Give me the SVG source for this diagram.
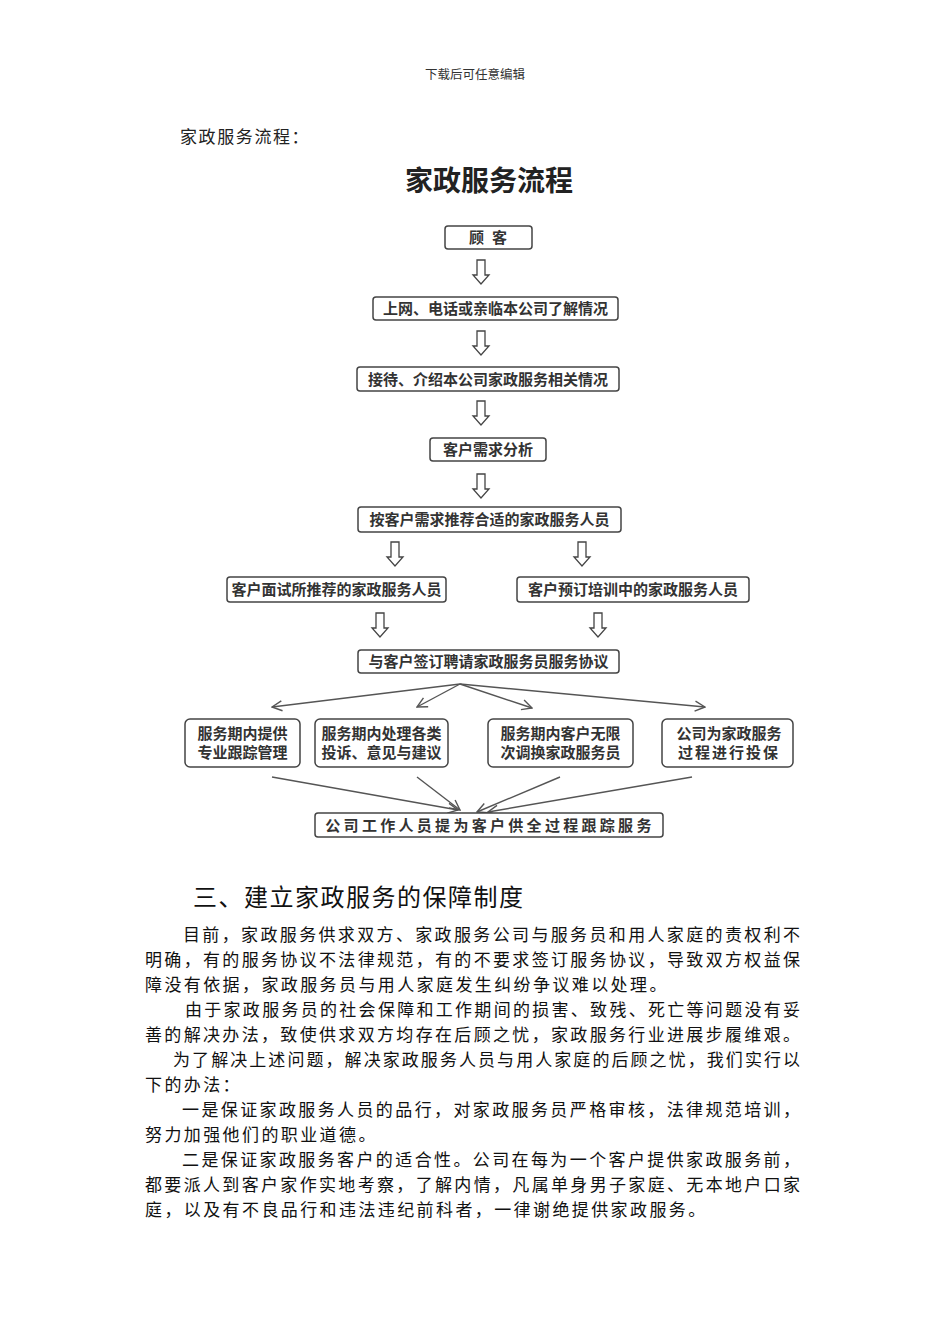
<svg xmlns="http://www.w3.org/2000/svg" width="950" height="1344" viewBox="0 0 950 1344">
<style>
.cjk{font-family:"Noto Sans CJK SC","Noto Sans",sans-serif;}
.box{fill:#fff;stroke:#444;stroke-width:1.5;}
.bt{font-family:"Noto Sans CJK SC",sans-serif;font-size:15px;fill:#333;text-anchor:middle;font-weight:bold;}
.body{font-family:"Noto Sans CJK SC",sans-serif;font-size:17px;fill:#111;}
.conn{stroke:#555;stroke-width:1.4;fill:none;}
.harrow{fill:#fff;stroke:#444;stroke-width:1.3;}
</style>
<defs>
<path id="ha" d="M-4,0 H4 V15 H8 L0,24 L-8,15 H-4 Z"/>
<marker id="v" viewBox="0 0 12 12" refX="11" refY="6" markerWidth="12" markerHeight="12" markerUnits="userSpaceOnUse" orient="auto">
<path d="M1,1 L11,6 L1,11" fill="none" stroke="#555" stroke-width="1.4"/>
</marker>
</defs>
<rect width="950" height="1344" fill="#fff"/>
<text class="cjk" x="475" y="79" font-size="12.5" fill="#333" text-anchor="middle">下载后可任意编辑</text>
<text class="cjk" x="180" y="143" font-size="17" fill="#222" letter-spacing="1.6">家政服务流程：</text>
<text class="cjk" x="489" y="191" font-size="28" font-weight="bold" fill="#222" text-anchor="middle">家政服务流程</text>

<g id="connectors">
<use href="#ha" class="harrow" x="481" y="260"/>
<use href="#ha" class="harrow" x="481" y="331"/>
<use href="#ha" class="harrow" x="481" y="401"/>
<use href="#ha" class="harrow" x="481" y="474"/>
<use href="#ha" class="harrow" x="395" y="542"/>
<use href="#ha" class="harrow" x="582" y="542"/>
<use href="#ha" class="harrow" x="380" y="613"/>
<use href="#ha" class="harrow" x="598" y="613"/>
<line class="conn" x1="460" y1="684" x2="272" y2="707" marker-end="url(#v)"/>
<line class="conn" x1="460" y1="684" x2="417" y2="707" marker-end="url(#v)"/>
<line class="conn" x1="460" y1="684" x2="532" y2="708" marker-end="url(#v)"/>
<line class="conn" x1="460" y1="684" x2="705" y2="707" marker-end="url(#v)"/>
<line class="conn" x1="272" y1="777" x2="458" y2="810" marker-end="url(#v)"/>
<line class="conn" x1="417" y1="777" x2="460" y2="810" marker-end="url(#v)"/>
<line class="conn" x1="560" y1="777" x2="477" y2="812" marker-end="url(#v)"/>
<line class="conn" x1="692" y1="777" x2="488" y2="812" marker-end="url(#v)"/>
</g>

<g id="n1"><rect class="box" x="445" y="226" width="87" height="23" rx="3"/><text class="bt" x="492" y="243" letter-spacing="8">顾客</text></g>
<g id="n2"><rect class="box" x="373" y="297" width="245" height="23" rx="3"/><text class="bt" x="495.5" y="314">上网、电话或亲临本公司了解情况</text></g>
<g id="n3"><rect class="box" x="357" y="367" width="262" height="24" rx="3"/><text class="bt" x="488" y="384.5">接待、介绍本公司家政服务相关情况</text></g>
<g id="n4"><rect class="box" x="430" y="438" width="116" height="23" rx="3"/><text class="bt" x="488" y="455">客户需求分析</text></g>
<g id="n5"><rect class="box" x="358" y="507" width="263" height="25" rx="3"/><text class="bt" x="489.5" y="525">按客户需求推荐合适的家政服务人员</text></g>
<g id="n6"><rect class="box" x="227" y="577" width="219" height="25" rx="3"/><text class="bt" x="336.5" y="595">客户面试所推荐的家政服务人员</text></g>
<g id="n7"><rect class="box" x="517" y="577" width="232" height="25" rx="3"/><text class="bt" x="633" y="595">客户预订培训中的家政服务人员</text></g>
<g id="n8"><rect class="box" x="358" y="650" width="261" height="23" rx="3"/><text class="bt" x="488.5" y="667">与客户签订聘请家政服务员服务协议</text></g>
<g id="n9"><rect class="box" x="185" y="719" width="115" height="48" rx="5"/><text class="bt" x="242.5" y="738.5">服务期内提供</text><text class="bt" x="242.5" y="758">专业跟踪管理</text></g>
<g id="n10"><rect class="box" x="315" y="719" width="133" height="48" rx="5"/><text class="bt" x="381.5" y="738.5">服务期内处理各类</text><text class="bt" x="381.5" y="758">投诉、意见与建议</text></g>
<g id="n11"><rect class="box" x="488" y="719" width="145" height="48" rx="5"/><text class="bt" x="560.5" y="738.5" font-size="16">服务期内客户无限</text><text class="bt" x="560.5" y="758" font-size="16">次调换家政服务员</text></g>
<g id="n12"><rect class="box" x="662" y="719" width="131" height="48" rx="5"/><text class="bt" x="729" y="738.5" font-size="16">公司为家政服务</text><text class="bt" x="729" y="758" font-size="16" letter-spacing="2">过程进行投保</text></g>
<g id="n13"><rect class="box" x="315" y="813" width="348" height="24" rx="3"/><text class="bt" x="490" y="831" letter-spacing="3.3">公司工作人员提为客户供全过程跟踪服务</text></g>

<text class="cjk" x="193" y="906" font-size="24" fill="#111" letter-spacing="1.5">三、建立家政服务的保障制度</text>
<g class="body">
<text x="183" y="941" textLength="617" lengthAdjust="spacing">目前，家政服务供求双方、家政服务公司与服务员和用人家庭的责权利不</text>
<text x="145" y="966" textLength="655" lengthAdjust="spacing">明确，有的服务协议不法律规范，有的不要求签订服务协议，导致双方权益保</text>
<text x="145" y="991" letter-spacing="2.4">障没有依据，家政服务员与用人家庭发生纠纷争议难以处理。</text>
<text x="185" y="1016" textLength="615" lengthAdjust="spacing">由于家政服务员的社会保障和工作期间的损害、致残、死亡等问题没有妥</text>
<text x="145" y="1041" textLength="655" lengthAdjust="spacing">善的解决办法，致使供求双方均存在后顾之忧，家政服务行业进展步履维艰。</text>
<text x="173" y="1066" textLength="627" lengthAdjust="spacing">为了解决上述问题，解决家政服务人员与用人家庭的后顾之忧，我们实行以</text>
<text x="145" y="1091" letter-spacing="2.4">下的办法：</text>
<text x="182" y="1116" textLength="618" lengthAdjust="spacing">一是保证家政服务人员的品行，对家政服务员严格审核，法律规范培训，</text>
<text x="145" y="1141" letter-spacing="2.4">努力加强他们的职业道德。</text>
<text x="182" y="1166" textLength="618" lengthAdjust="spacing">二是保证家政服务客户的适合性。公司在每为一个客户提供家政服务前，</text>
<text x="145" y="1191" textLength="655" lengthAdjust="spacing">都要派人到客户家作实地考察，了解内情，凡属单身男子家庭、无本地户口家</text>
<text x="145" y="1216" letter-spacing="2.4">庭，以及有不良品行和违法违纪前科者，一律谢绝提供家政服务。</text>
</g>
</svg>
